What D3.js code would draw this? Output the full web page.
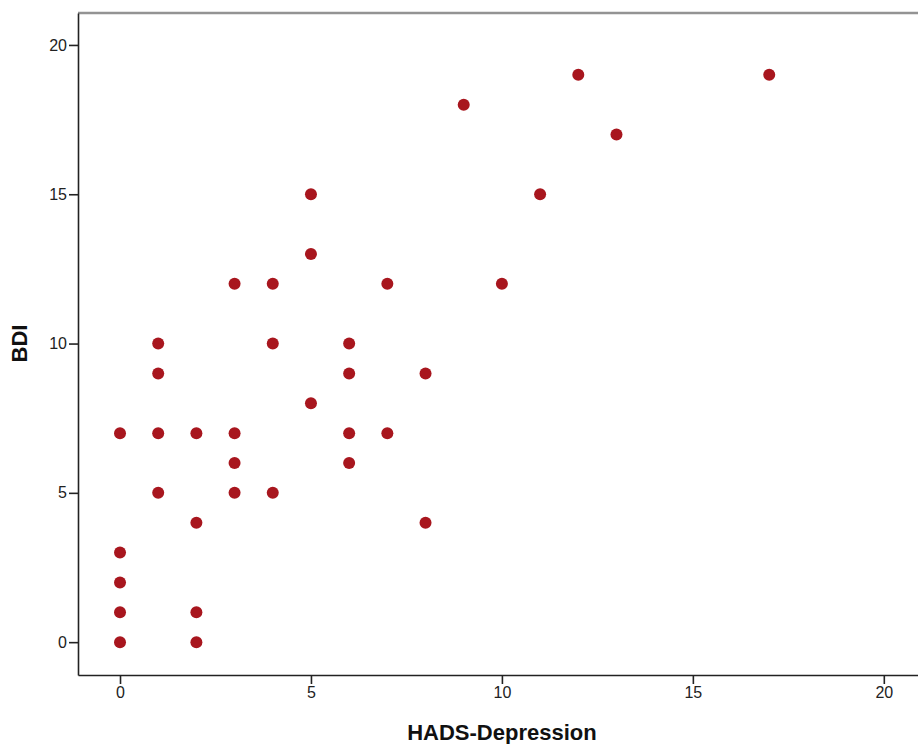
<!DOCTYPE html>
<html>
<head>
<meta charset="utf-8">
<script src="https://cdn.jsdelivr.net/npm/d3@7"></script>
<style>
  body { margin: 0; background: #fff; }
  svg { display: block; font-family: "Liberation Sans", Arial, sans-serif; }
  .lbl { font-weight: bold; font-size: 22px; fill: #111; }
</style>
</head>
<body>
<script>
// HADS-Depression vs BDI
const hads = [0, 0, 0, 0, 0, 1, 1, 1, 1, 2, 2, 2, 2, 3, 3, 3, 3, 4, 4, 4, 5, 5, 5, 6, 6, 6, 6, 7, 7, 8, 8, 9, 10, 11, 12, 13, 17]
const bdi  = [7, 3, 2, 1, 0, 10, 9, 7, 5, 7, 4, 1, 0, 12, 7, 6, 5, 12, 10, 5, 15, 13, 8, 10, 9, 7, 6, 12, 7, 9, 4, 18, 12, 15, 19, 17, 19]
const xTicks = [0, 5, 10, 15, 20]
const yTicks = [0, 5, 10, 15, 20]

const width = 918, height = 744
const m = {left: 78, top: 13, bottom: 675, right: 922}

const svg = d3.select('body').append('svg')
    .attr('width', width)
    .attr('height', height)

let x = d3.scaleLinear().domain([-1.1, 21]).range([m.left, m.right])
let y = d3.scaleLinear().domain([-1.1, 21.07]).range([m.bottom, m.top])

// top frame line (gray)
svg.append('line')
    .attr('x1', m.left).attr('x2', width)
    .attr('y1', m.top).attr('y2', m.top)
    .attr('stroke', '#939393')
    .attr('stroke-width', 2.4)

const styleAxis = g => {
    g.attr('font-size', 16).attr('font-family', '"Liberation Sans", Arial, sans-serif')
    g.select('.domain').attr('stroke', '#222').attr('stroke-width', 1.6)
    g.selectAll('.tick line').attr('stroke', '#222').attr('stroke-width', 1.6)
    g.selectAll('.tick text').attr('fill', '#222')
}

svg.append('g')
    .attr('transform', `translate(0,${m.bottom})`)
    .call(d3.axisBottom(x).tickValues(xTicks).tickSize(9).tickPadding(3).tickSizeOuter(0))
    .call(styleAxis)

svg.append('g')
    .attr('transform', `translate(${m.left},0)`)
    .call(d3.axisLeft(y).tickValues(yTicks).tickSize(9).tickPadding(2).tickSizeOuter(0))
    .call(styleAxis)

let pts = hads.map((h, i) => ({x: h, y: bdi[i]}))
svg.append('g').selectAll('circle')
    .data(pts).enter()
    .append('circle')
    .attr('cx', d => x(d.x))
    .attr('cy', d => y(d.y))
    .attr('r', 6)
    .attr('fill', '#a8161e')

svg.append('text')
    .attr('class', 'lbl')
    .attr('x', (x(0) + x(20)) / 2)
    .attr('y', 740)
    .attr('text-anchor', 'middle')
    .text('HADS-Depression')

svg.append('text')
    .attr('class', 'lbl')
    .attr('transform', `translate(27,${y(10)}) rotate(-90)`)
    .attr('text-anchor', 'middle')
    .text('BDI')
</script>
</body>
</html>
